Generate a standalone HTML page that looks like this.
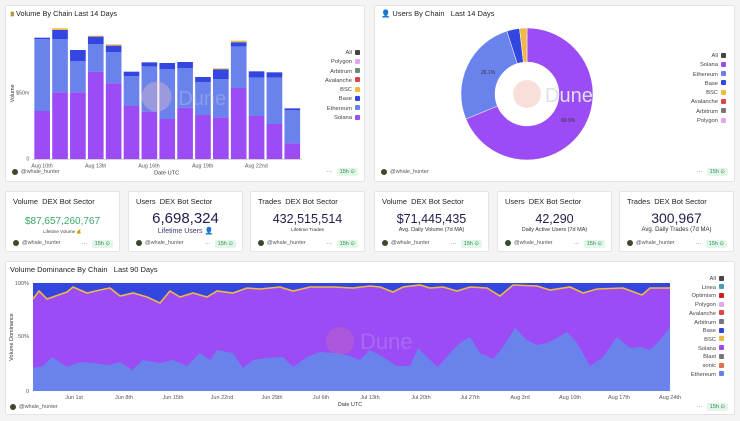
<!DOCTYPE html>
<html><head><meta charset="utf-8"><style>
*{margin:0;padding:0;box-sizing:border-box}
body{width:740px;height:421px;background:#f4f4f4;font-family:"Liberation Sans",sans-serif;position:relative;overflow:hidden;color:#222}
.p{position:absolute;background:#fff;border:1px solid #e4e4e4;border-radius:2px}
.t{position:absolute;left:7px;top:7px;font-size:7.5px;color:#222}
.f{position:absolute;left:7px;bottom:5px;font-size:5.5px;color:#555;display:flex;align-items:center;gap:3px}
.f i{display:inline-block;width:6px;height:6px;border-radius:50%;background:#3a4a2a}
.g{position:absolute;right:6px;bottom:4px;font-size:5.5px;color:#555}
.g b{font-weight:normal;background:#e3f6ea;color:#2a8a4a;padding:1px 3px;border-radius:2px;margin-left:3px}
.big{position:absolute;left:0;right:0;text-align:center;color:#1e1e4a}
.lg{position:absolute;font-size:5.8px;color:#444;text-align:right;line-height:9.3px}
.lg span{display:inline-block;width:5px;height:5px;margin-left:3px;border-radius:1px;vertical-align:-0.5px}
</style></head><body>

<!-- Panel 1 -->
<div class="p" style="left:5px;top:5px;width:360px;height:177px"></div>
<svg style="position:absolute;left:0;top:0" width="370" height="190" viewBox="0 0 1110 570">
<text x="48" y="48" font-size="22" fill="#222" font-family="Liberation Sans">Volume By Chain   Last 14 Days</text>
<rect x="32" y="35" width="10" height="14" fill="#b89540"/>
<g id="bars"></g>
<circle cx="470" cy="290" r="45" fill="#f4c9c2" opacity="0.35"/>
<text x="535" y="315" font-size="60" fill="#c8cfe4" font-family="Liberation Sans" opacity="0.35">Dune</text>
<line x1="98" y1="478" x2="905" y2="478" stroke="#bbb" stroke-width="2"/>
<text x="88" y="283" font-size="16" fill="#555" text-anchor="end" font-family="Liberation Sans">$50m</text>
<text x="88" y="482" font-size="16" fill="#555" text-anchor="end" font-family="Liberation Sans">0</text>
<text x="42" y="280" font-size="16" fill="#333" transform="rotate(-90 42 280)" text-anchor="middle" font-family="Liberation Sans">Volume</text>
<g font-size="16" fill="#555" text-anchor="middle" font-family="Liberation Sans">
<text x="126" y="502">Aug 10th</text><text x="287" y="502">Aug 13th</text><text x="447" y="502">Aug 16th</text><text x="608" y="502">Aug 19th</text><text x="769" y="502">Aug 22nd</text></g>
<text x="500" y="524" font-size="17" fill="#333" text-anchor="middle" font-family="Liberation Sans">Date UTC</text>
</svg>
<div class="lg" style="left:310px;top:49px;width:50px">All<span style="background:#444"></span><br>Polygon<span style="background:#e3a6f0"></span><br>Arbitrum<span style="background:#6c8a7a"></span><br>Avalanche<span style="background:#e04444"></span><br>BSC<span style="background:#f2b845"></span><br>Base<span style="background:#3347e0"></span><br>Ethereum<span style="background:#6a82ec"></span><br>Solana<span style="background:#9b4cf5"></span></div>
<div class="f" style="left:12px;bottom:246px"><i></i>@whale_hunter</div>
<div class="g" style="right:382px;bottom:246px">··· <b>15h ⊙</b></div>

<!-- Panel 2 -->
<div class="p" style="left:374px;top:5px;width:361px;height:177px"></div>
<div class="t" style="left:381px;top:9px">👤 Users By Chain &nbsp; Last 14 Days</div>
<svg style="position:absolute;left:370px;top:0" width="370" height="190" viewBox="-157 -94 370 190">
<path d="M0,-66 A66,66 0 1 1 -61.1,25.0 L-29.6,12.1 A32,32 0 1 0 0,-32Z" fill="#9b4cf5" stroke="#fff" stroke-width="0.5"/>
<path d="M-61.1,25.0 A66,66 0 0 1 -20.1,-62.9 L-9.7,-30.5 A32,32 0 0 0 -29.6,12.1Z" fill="#6a82ec" stroke="#fff" stroke-width="0.5"/>
<path d="M-20.1,-62.9 A66,66 0 0 1 -7.5,-65.6 L-3.6,-31.8 A32,32 0 0 0 -9.7,-30.5Z" fill="#3347e0" stroke="#fff" stroke-width="0.5"/>
<path d="M-7.5,-65.6 A66,66 0 0 1 0,-66 L0,-32 A32,32 0 0 0 -3.6,-31.8Z" fill="#f2b845" stroke="#fff" stroke-width="0.5"/>
<circle cx="0" cy="0" r="14" fill="#f4c9c2" opacity="0.6"/>
<text x="18" y="8" font-size="20" fill="#dde1ec" font-family="Liberation Sans">Dune</text>
<text x="-46" y="-20" font-size="5" fill="#333" font-family="Liberation Sans">26.1%</text>
<text x="34" y="28" font-size="5" fill="#333" font-family="Liberation Sans">69.9%</text>
</svg>
<div class="lg" style="left:672px;top:52px;width:54px">All<span style="background:#444"></span><br>Solana<span style="background:#9b4cf5"></span><br>Ethereum<span style="background:#6a82ec"></span><br>Base<span style="background:#3347e0"></span><br>BSC<span style="background:#f2b845"></span><br>Avalanche<span style="background:#e04444"></span><br>Arbitrum<span style="background:#777"></span><br>Polygon<span style="background:#e3a6f0"></span></div>
<div class="f" style="left:381px;bottom:246px"><i></i>@whale_hunter</div>
<div class="g" style="right:12px;bottom:246px">··· <b>15h ⊙</b></div>

<!-- KPI cards -->
<div class="p" style="left:5px;top:191px;width:115px;height:61px"><div class="t" style="top:5px">Volume &nbsp;DEX Bot Sector</div><div class="big" style="top:24px;font-size:10px;color:#3aa86a">$87,657,260,767</div><div class="big" style="top:37px;font-size:4.5px;color:#444">Lifetime Volume 💰</div><div class="f"><i></i>@whale_hunter</div><div class="g">··· <b>15h ⊙</b></div></div>
<div class="p" style="left:128px;top:191px;width:115px;height:61px"><div class="t" style="top:5px">Users &nbsp;DEX Bot Sector</div><div class="big" style="top:18px;font-size:15px">6,698,324</div><div class="big" style="top:35px;font-size:7px;color:#3a3a7a">Lifetime Users 👤</div><div class="f"><i></i>@whale_hunter</div><div class="g">··· <b>15h ⊙</b></div></div>
<div class="p" style="left:250px;top:191px;width:115px;height:61px"><div class="t" style="top:5px">Trades &nbsp;DEX Bot Sector</div><div class="big" style="top:20px;font-size:12.5px">432,515,514</div><div class="big" style="top:36px;font-size:4.8px;color:#333">Lifetime Trades</div><div class="f"><i></i>@whale_hunter</div><div class="g">··· <b>15h ⊙</b></div></div>
<div class="p" style="left:374px;top:191px;width:115px;height:61px"><div class="t" style="top:5px">Volume &nbsp;DEX Bot Sector</div><div class="big" style="top:20px;font-size:12.5px">$71,445,435</div><div class="big" style="top:35px;font-size:5.5px;color:#333">Avg. Daily Volume (7d MA)</div><div class="f"><i></i>@whale_hunter</div><div class="g">··· <b>15h ⊙</b></div></div>
<div class="p" style="left:497px;top:191px;width:115px;height:61px"><div class="t" style="top:5px">Users &nbsp;DEX Bot Sector</div><div class="big" style="top:20px;font-size:12.5px">42,290</div><div class="big" style="top:35px;font-size:5.5px;color:#333">Daily Active Users (7d MA)</div><div class="f"><i></i>@whale_hunter</div><div class="g">··· <b>15h ⊙</b></div></div>
<div class="p" style="left:619px;top:191px;width:115px;height:61px"><div class="t" style="top:5px">Trades &nbsp;DEX Bot Sector</div><div class="big" style="top:18px;font-size:14px">300,967</div><div class="big" style="top:35px;font-size:6px;color:#333">Avg. Daily Trades (7d MA)</div><div class="f"><i></i>@whale_hunter</div><div class="g">··· <b>15h ⊙</b></div></div>

<!-- Bottom panel -->
<div class="p" style="left:5px;top:261px;width:730px;height:154px"></div>
<div class="t" style="left:10px;top:265px">Volume Dominance By Chain &nbsp; Last 90 Days</div>
<svg style="position:absolute;left:0;top:0" width="740" height="421">
<rect x="33" y="283" width="637" height="108" fill="#3347e0"/>
<polygon id="sol" fill="#9b4cf5"/>
<polyline id="bsc" fill="none" stroke="#f2b845" stroke-width="1.6"/>
<polygon id="eth" fill="#6a82ec"/>
<circle cx="340" cy="341" r="14" fill="#f08a7a" opacity="0.2"/>
<text x="360" y="349" font-size="22" fill="#c8a0f0" opacity="0.35" font-family="Liberation Sans">Dune</text>
<g font-size="5.5" fill="#555" font-family="Liberation Sans">
<text x="29" y="285" text-anchor="end">100%</text><text x="29" y="338" text-anchor="end">50%</text><text x="29" y="393" text-anchor="end">0</text>
<g text-anchor="middle"><text x="74" y="399">Jun 1st</text><text x="124" y="399">Jun 8th</text><text x="173" y="399">Jun 15th</text><text x="222" y="399">Jun 22nd</text><text x="272" y="399">Jun 29th</text><text x="321" y="399">Jul 6th</text><text x="370" y="399">Jul 13th</text><text x="421" y="399">Jul 20th</text><text x="470" y="399">Jul 27th</text><text x="520" y="399">Aug 3rd</text><text x="570" y="399">Aug 10th</text><text x="619" y="399">Aug 17th</text><text x="670" y="399">Aug 24th</text></g>
<text x="13" y="337" transform="rotate(-90 13 337)" text-anchor="middle" fill="#333">Volume Dominance</text>
<text x="350" y="406" text-anchor="middle" fill="#333">Date UTC</text>
</g>
</svg>
<div class="lg" style="left:672px;top:275px;width:52px;line-height:8.7px">All<span style="background:#444"></span><br>Linea<span style="background:#4a9ac0"></span><br>Optimism<span style="background:#d02020"></span><br>Polygon<span style="background:#e3a6f0"></span><br>Avalanche<span style="background:#e04444"></span><br>Arbitrum<span style="background:#777"></span><br>Base<span style="background:#3347e0"></span><br>BSC<span style="background:#f2b845"></span><br>Solana<span style="background:#9b4cf5"></span><br>Blast<span style="background:#777"></span><br>sonic<span style="background:#e07050"></span><br>Ethereum<span style="background:#6a82ec"></span></div>
<div class="f" style="left:10px;bottom:11px"><i></i>@whale_hunter</div>
<div class="g" style="right:12px;bottom:11px">··· <b>15h ⊙</b></div>

<script>
var B=[[113,118,333],[90,118,277,85],[150,183,277],[110,133,215,107],[137,156,250,133],[215,229,318],[187,200,335],[189,207,357],[186,204,323],[231,247,345],[208,238,352,205],[127,140,264,122],[214,233,348],[217,233,372],[325,330,430]];
var s='';B.forEach(function(b,i){var x=103+i*53.6,w=47;
if(b[3])s+='<rect x="'+x+'" y="'+b[3]+'" width="'+w+'" height="'+(b[0]-b[3])+'" fill="#f2b845"/>';
s+='<rect x="'+x+'" y="'+b[0]+'" width="'+w+'" height="'+(b[1]-b[0])+'" fill="#3347e0"/>';
s+='<rect x="'+x+'" y="'+b[1]+'" width="'+w+'" height="'+(b[2]-b[1])+'" fill="#6a82ec"/>';
s+='<rect x="'+x+'" y="'+b[2]+'" width="'+w+'" height="'+(478-b[2])+'" fill="#9b4cf5"/>';});
document.getElementById('bars').innerHTML=s;
var E=[[33,368],[43,366],[52,357],[67,367],[80,362],[93,363],[110,365],[120,362],[132,370],[143,360],[160,363],[173,360],[187,366],[200,353],[210,360],[217,350],[233,353],[243,368],[253,360],[267,358],[283,357],[293,367],[307,357],[320,352],[333,353],[347,355],[360,360],[370,350],[383,357],[397,366],[410,366],[418,348],[427,357],[438,367],[450,353],[460,343],[470,337],[480,353],[493,359],[503,347],[515,328],[527,340],[537,345],[547,343],[557,338],[567,332],[577,343],[590,366],[603,357],[617,337],[630,348],[640,347],[650,350],[660,340],[670,327]];
var T=[[33,299],[39,291],[47,299],[67,292],[73,287],[87,293],[100,290],[110,288],[120,296],[133,293],[147,297],[160,303],[170,291],[180,297],[193,293],[207,297],[217,291],[233,293],[247,288],[260,289],[280,287],[293,291],[310,287],[333,287],[353,288],[370,286],[380,287],[393,292],[403,287],[420,285],[430,288],[443,287],[457,291],[470,287],[487,288],[500,296],[513,285],[537,286],[550,290],[570,287],[583,293],[597,289],[623,288],[642,295],[650,288],[670,288]];
function pts(a){return a.map(function(p){return p.join(',')}).join(' ')}
document.getElementById('eth').setAttribute('points',pts(E)+' 670,391 33,391');
document.getElementById('sol').setAttribute('points',pts(T)+' 670,391 33,391');
document.getElementById('bsc').setAttribute('points',pts(T));
</script>
</body></html>
